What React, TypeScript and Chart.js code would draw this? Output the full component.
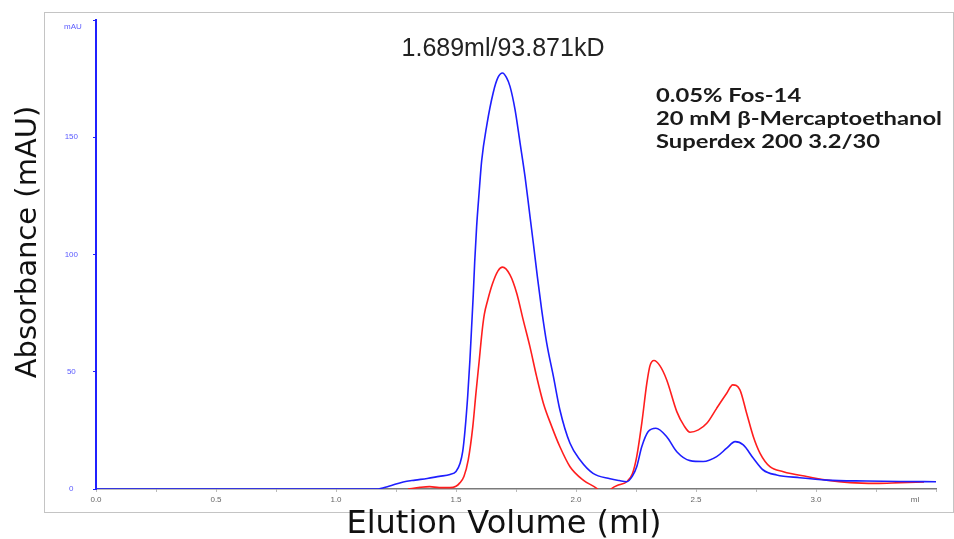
import React, { useEffect, useRef } from "react";
import { Chart, registerables } from "chart.js";

Chart.register(...registerables);

// Elution volume (ml) and absorbance (mAU) for the blue trace
const blueVolume = [
  0.0, 0.5, 1.0, 1.17, 1.22, 1.28, 1.33, 1.38, 1.43, 1.475, 1.5, 1.517, 1.528, 1.5375, 1.549, 1.558,
  1.565, 1.572, 1.578, 1.586, 1.596, 1.607, 1.628, 1.655, 1.675, 1.694, 1.71, 1.725, 1.746, 1.767,
  1.7875, 1.805, 1.822, 1.839, 1.857, 1.878, 1.906, 1.933, 1.975, 2.017, 2.071, 2.142, 2.18, 2.211,
  2.235, 2.253, 2.274, 2.301, 2.333, 2.378, 2.42, 2.475, 2.53, 2.586, 2.628, 2.663, 2.697, 2.739,
  2.78, 2.836, 2.933, 3.044, 3.21, 3.35, 3.5,
];
const blueAbs = [
  0, 0, 0, 0, 1.2, 3.0, 3.8, 4.5, 5.4, 6.2, 7.5, 11, 16, 25, 40, 55,
  69, 83, 97, 112, 126, 140, 155, 169, 175.5, 177.4, 175.5, 171.7, 161.8, 147.5,
  133.3, 119, 105, 90.6, 76.4, 62.2, 47.9, 33.7, 19.5, 12.4, 6.7, 4.4, 3.6, 3.1,
  5.5, 9.5, 18, 24.5, 25.9, 22.3, 15.9, 12.1, 11.7, 13.8, 17.4, 20.2, 18.8, 13.1,
  8.1, 6.0, 4.8, 3.8, 3.4, 3.2, 3.1,
];

// Red trace
const redVolume = [
  1.3, 1.35, 1.39, 1.43, 1.475, 1.5, 1.515, 1.533, 1.551, 1.57, 1.583, 1.597, 1.604, 1.611, 1.618,
  1.632, 1.652, 1.675, 1.694, 1.725, 1.753, 1.78, 1.808, 1.836, 1.864, 1.899, 1.933, 1.975, 2.03,
  2.086, 2.12, 2.15, 2.18, 2.211, 2.235, 2.253, 2.274, 2.295, 2.308, 2.325, 2.35, 2.378, 2.42, 2.45,
  2.475, 2.51, 2.545, 2.586, 2.628, 2.653, 2.683, 2.711, 2.739, 2.767, 2.808, 2.864, 2.961, 3.044,
  3.142, 3.25, 3.35, 3.45,
];
const redAbs = [
  0, 0.7, 1.0, 0.6, 0.6, 1.2, 2.5, 5.3, 12.4, 26.6, 40.8, 55, 62.5, 69.3, 74.5,
  80.5, 87.5, 93, 94.6, 91.3, 83.5, 72.1, 60.7, 47.9, 36.6, 26.6, 18, 9.5, 3.8,
  0.3, -3, 0.3, 1.8, 3.1, 6.5, 13.8, 28, 45, 52.5, 54.8, 52.5, 46.5, 33, 27,
  24.2, 25.2, 28, 34.4, 40.8, 44.4, 42.3, 32.3, 22.3, 15.2, 9.5, 7.4, 5.3, 3.8,
  2.7, 2.4, 2.7, 3.0,
];

const peakLabel = "1.689ml/93.871kD";
const conditionLines = ["0.05% Fos-14", "20 mM \u03b2-Mercaptoethanol", "Superdex 200 3.2/30"];
const xTitle = "Elution Volume (ml)";
const yTitle = "Absorbance (mAU)";
const yUnit = "mAU";
const xUnit = "ml";

const toPoints = (xs: number[], ys: number[]) => xs.map((x, i) => ({ x, y: ys[i] }));

const decorPlugin = {
  id: "decor",
  beforeDraw(chart: any) {
    const ctx = chart.ctx;
    ctx.save();
    ctx.fillStyle = "#ffffff";
    ctx.fillRect(0, 0, chart.width, chart.height);
    ctx.strokeStyle = "#c4c4c4";
    ctx.lineWidth = 1;
    ctx.strokeRect(44.5, 12.5, 909, 500);
    ctx.restore();
  },
  afterDraw(chart: any) {
    const ctx = chart.ctx;
    ctx.save();
    // axis titles
    ctx.fillStyle = "#111111";
    ctx.textAlign = "center";
    ctx.textBaseline = "middle";
    ctx.font = "32px 'DejaVu Sans'";
    ctx.fillText(xTitle, 504, 525);
    ctx.save();
    ctx.translate(28, 242);
    ctx.rotate(-Math.PI / 2);
    ctx.font = "29px 'DejaVu Sans'";
    ctx.fillText(yTitle, 0, 0);
    ctx.restore();

    // unit labels
    ctx.font = "8px 'Liberation Sans'";
    ctx.fillStyle = "#5a5aff";
    ctx.fillText(yUnit, 73, 27);
    ctx.fillStyle = "#666666";
    ctx.fillText(xUnit, 915, 500);

    // peak label
    ctx.font = "25px 'Liberation Sans'";
    ctx.fillStyle = "#222222";
    ctx.textAlign = "center";
    ctx.textBaseline = "alphabetic";
    ctx.fillText(peakLabel, 503, 56);

    // conditions block
    ctx.font = "bold 19px Lato";
    ctx.fillStyle = "#1a1a1a";
    ctx.textAlign = "left";
    const w = ctx.measureText(conditionLines[1]).width;
    const sx = 286 / w;
    const baselines = [102, 125, 148];
    conditionLines.forEach((line, i) => {
      ctx.save();
      ctx.translate(656, baselines[i]);
      ctx.scale(sx, 1);
      ctx.fillText(line, 0, 0);
      ctx.restore();
    });
    ctx.restore();
  },
};

export default function App() {
  const canvasRef = useRef<HTMLCanvasElement | null>(null);

  useEffect(() => {
    const canvas = canvasRef.current;
    if (!canvas) return;
    const chart = new Chart(canvas, {
      type: "line",
      data: {
        datasets: [
          {
            label: "Blue",
            data: toPoints(blueVolume, blueAbs),
            borderColor: "#1e1eff",
            borderWidth: 1.6,
            pointRadius: 0,
            cubicInterpolationMode: "monotone",
            fill: false,
          },
          {
            label: "Red",
            data: toPoints(redVolume, redAbs),
            borderColor: "#ff1e1e",
            borderWidth: 1.6,
            pointRadius: 0,
            cubicInterpolationMode: "monotone",
            fill: false,
          },
        ],
      },
      options: {
        responsive: false,
        animation: false,
        devicePixelRatio: 1,
        layout: { padding: { left: 0, top: 20, right: 18, bottom: 0 } },
        plugins: {
          legend: { display: false },
          tooltip: { enabled: false },
        },
        scales: {
          x: {
            type: "linear",
            min: 0,
            max: 3.5,
            afterFit: (scale: any) => {
              scale.height = 50;
            },
            border: { display: true, color: "#7a7a7a", width: 1.5 },
            grid: { display: true, drawOnChartArea: false, drawTicks: true, tickLength: 3, color: "#bbbbbb" },
            ticks: {
              stepSize: 0.25,
              autoSkip: false,
              maxRotation: 0,
              padding: 3,
              color: "#666666",
              font: { family: "'Liberation Sans'", size: 8 },
              callback: (v: any) => {
                const n = Number(v);
                if (n > 3.01) return "";
                return Math.abs(n * 2 - Math.round(n * 2)) < 1e-6 ? n.toFixed(1) : "";
              },
            },
            title: { display: false, text: xTitle },
          },
          y: {
            type: "linear",
            min: 0,
            max: 200,
            afterFit: (scale: any) => {
              scale.width = 96;
            },
            border: { display: true, color: "#2020ff", width: 2 },
            grid: { display: true, drawOnChartArea: false, drawTicks: true, tickLength: 3, color: "#2020ff" },
            ticks: {
              stepSize: 50,
              padding: 15,
              crossAlign: "center",
              color: "#5a5aff",
              font: { family: "'Liberation Sans'", size: 8 },
              callback: (v: any) => (Number(v) >= 200 ? "" : String(v)),
            },
            title: { display: false, text: yTitle },
          },
        },
      } as any,
      plugins: [decorPlugin],
    });
    return () => chart.destroy();
  }, []);

  return (
    <div style={{ position: "absolute", left: 0, top: 0, width: 954, height: 539, background: "#fff" }}>
      <canvas ref={canvasRef} width={954} height={539} style={{ width: 954, height: 539, display: "block" }} />
    </div>
  );
}
